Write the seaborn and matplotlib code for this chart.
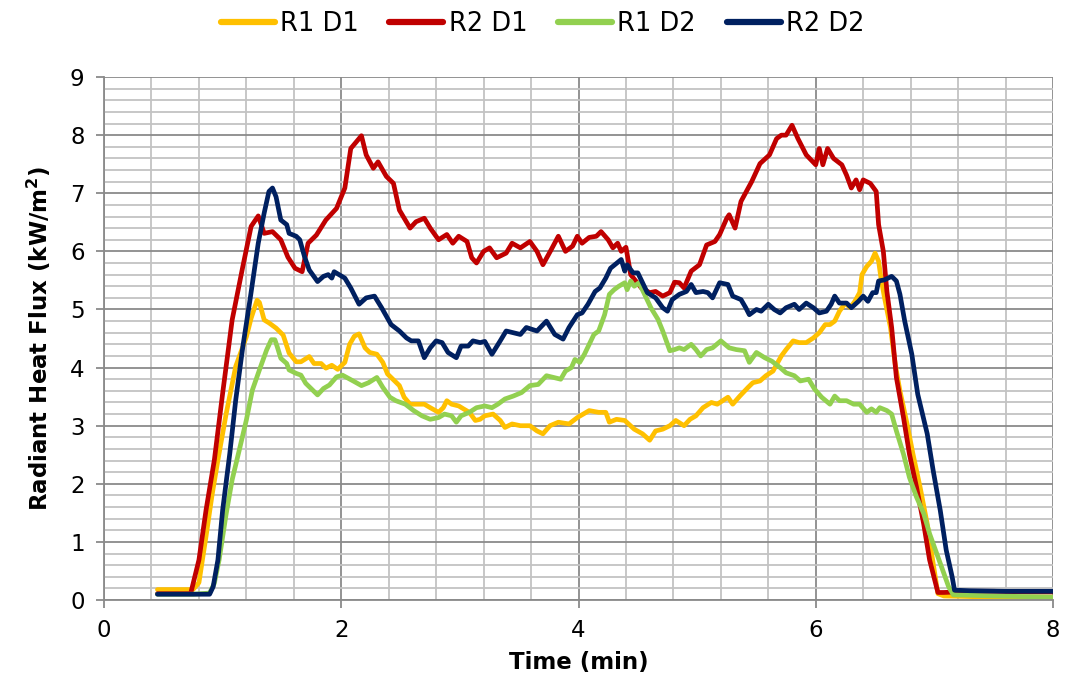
import numpy as np
import pandas as pd
import matplotlib
matplotlib.use("Agg")
import matplotlib.pyplot as plt
from matplotlib.ticker import MultipleLocator
import seaborn as sns

# ---- data ----
t_r1d1 = [0.45, 0.6, 0.75, 0.80, 0.86, 0.91, 0.96, 1.03, 1.11, 1.20, 1.24, 1.29, 1.31, 1.35, 1.39, 1.45,
          1.51, 1.56, 1.62, 1.66, 1.73, 1.77, 1.83, 1.87, 1.92, 1.97, 2.03, 2.07, 2.11, 2.15, 2.20, 2.24,
          2.30, 2.35, 2.39, 2.45, 2.49, 2.53, 2.58, 2.65, 2.70, 2.75, 2.82, 2.86, 2.89, 2.93, 2.99, 3.03,
          3.08, 3.13, 3.17, 3.21, 3.28, 3.34, 3.38, 3.44, 3.51, 3.59, 3.65, 3.70, 3.76, 3.83, 3.92, 3.99,
          4.09, 4.17, 4.23, 4.26, 4.32, 4.39, 4.47, 4.54, 4.60, 4.65, 4.71, 4.77, 4.82, 4.89, 4.94, 4.99,
          5.05, 5.12, 5.17, 5.26, 5.30, 5.36, 5.43, 5.47, 5.53, 5.58, 5.64, 5.68, 5.71, 5.75, 5.81, 5.86,
          5.92, 5.98, 6.03, 6.08, 6.12, 6.16, 6.20, 6.25, 6.29, 6.33, 6.37, 6.39, 6.43, 6.47, 6.50, 6.53,
          6.55, 6.58, 6.63, 6.67, 6.71, 6.77, 6.82, 6.88, 6.94, 6.99, 7.03, 7.08, 7.5, 8.0]
v_r1d1 = [0.18, 0.18, 0.18, 0.30, 1.10, 1.80, 2.41, 3.21, 4.02, 4.53, 4.85, 5.16, 5.12, 4.82, 4.77, 4.68,
          4.56, 4.25, 4.10, 4.10, 4.19, 4.07, 4.07, 3.99, 4.04, 3.97, 4.09, 4.40, 4.54, 4.58, 4.34, 4.26,
          4.23, 4.09, 3.89, 3.77, 3.69, 3.49, 3.37, 3.37, 3.37, 3.31, 3.23, 3.31, 3.43, 3.37, 3.34, 3.29,
          3.23, 3.09, 3.11, 3.17, 3.20, 3.09, 2.97, 3.03, 3.00, 3.00, 2.91, 2.86, 3.00, 3.06, 3.03, 3.14,
          3.26, 3.23, 3.23, 3.06, 3.11, 3.09, 2.94, 2.86, 2.75, 2.91, 2.94, 3.00, 3.09, 3.00, 3.11, 3.17,
          3.31, 3.40, 3.37, 3.49, 3.37, 3.51, 3.66, 3.74, 3.77, 3.86, 3.94, 4.09, 4.20, 4.31, 4.46, 4.43,
          4.43, 4.51, 4.60, 4.74, 4.74, 4.80, 4.97, 5.11, 5.03, 5.14, 5.29, 5.60, 5.74, 5.83, 5.97, 5.83,
          5.54, 5.20, 4.69, 4.06, 3.60, 3.03, 2.51, 1.94, 1.31, 0.63, 0.11, 0.07, 0.05, 0.05]

t_r2d1 = [0.45, 0.6, 0.73, 0.80, 0.86, 0.93, 1.00, 1.08, 1.17, 1.24, 1.30, 1.35, 1.42, 1.49, 1.55, 1.61,
          1.67, 1.72, 1.79, 1.87, 1.96, 2.03, 2.08, 2.17, 2.21, 2.27, 2.31, 2.38, 2.44, 2.49, 2.58, 2.63,
          2.70, 2.75, 2.82, 2.89, 2.94, 2.99, 3.06, 3.10, 3.14, 3.20, 3.25, 3.31, 3.39, 3.44, 3.51, 3.59,
          3.65, 3.70, 3.77, 3.83, 3.89, 3.95, 3.99, 4.03, 4.09, 4.15, 4.19, 4.25, 4.29, 4.33, 4.36, 4.40,
          4.44, 4.53, 4.60, 4.65, 4.71, 4.77, 4.81, 4.85, 4.89, 4.95, 5.02, 5.08, 5.15, 5.19, 5.25, 5.27,
          5.32, 5.37, 5.46, 5.53, 5.61, 5.67, 5.71, 5.75, 5.80, 5.85, 5.92, 6.00, 6.03, 6.06, 6.10, 6.15,
          6.22, 6.26, 6.30, 6.34, 6.37, 6.40, 6.46, 6.51, 6.53, 6.57, 6.60, 6.64, 6.68, 6.74, 6.79, 6.85,
          6.91, 6.96, 7.01, 7.03, 7.08, 7.3, 7.5, 7.8, 8.0]
v_r2d1 = [0.11, 0.11, 0.11, 0.69, 1.55, 2.41, 3.56, 4.82, 5.74, 6.43, 6.61, 6.31, 6.34, 6.20, 5.90, 5.71,
          5.65, 6.14, 6.28, 6.54, 6.74, 7.09, 7.77, 7.99, 7.66, 7.43, 7.54, 7.29, 7.17, 6.71, 6.40, 6.51,
          6.57, 6.40, 6.20, 6.29, 6.14, 6.26, 6.17, 5.89, 5.80, 6.00, 6.06, 5.89, 5.97, 6.14, 6.06, 6.17,
          6.00, 5.77, 6.03, 6.26, 6.00, 6.09, 6.26, 6.14, 6.24, 6.26, 6.34, 6.20, 6.06, 6.14, 6.00, 6.07,
          5.60, 5.37, 5.29, 5.31, 5.23, 5.29, 5.47, 5.46, 5.37, 5.66, 5.77, 6.11, 6.17, 6.29, 6.57, 6.63,
          6.40, 6.86, 7.20, 7.51, 7.66, 7.94, 8.00, 8.00, 8.17, 7.94, 7.66, 7.49, 7.77, 7.49, 7.77, 7.60,
          7.49, 7.31, 7.09, 7.23, 7.06, 7.23, 7.17, 7.03, 6.46, 6.00, 5.31, 4.69, 3.83, 3.14, 2.51, 1.94,
          1.31, 0.69, 0.29, 0.13, 0.13, 0.15, 0.15, 0.14, 0.14]

t_r1d2 = [0.45, 0.6, 0.75, 0.89, 0.93, 0.97, 1.03, 1.08, 1.14, 1.20, 1.25, 1.31, 1.37, 1.41, 1.44, 1.46,
          1.49, 1.54, 1.56, 1.62, 1.66, 1.70, 1.76, 1.80, 1.85, 1.90, 1.96, 2.01, 2.10, 2.17, 2.23, 2.30,
          2.35, 2.41, 2.46, 2.54, 2.61, 2.68, 2.75, 2.82, 2.87, 2.93, 2.97, 3.01, 3.08, 3.14, 3.21, 3.27,
          3.32, 3.38, 3.45, 3.52, 3.59, 3.66, 3.73, 3.79, 3.85, 3.89, 3.94, 3.97, 4.01, 4.05, 4.09, 4.13,
          4.17, 4.22, 4.26, 4.30, 4.34, 4.39, 4.41, 4.44, 4.47, 4.51, 4.55, 4.61, 4.67, 4.71, 4.77, 4.81,
          4.85, 4.89, 4.95, 4.99, 5.03, 5.08, 5.13, 5.20, 5.27, 5.33, 5.40, 5.44, 5.50, 5.57, 5.63, 5.70,
          5.75, 5.82, 5.87, 5.94, 5.99, 6.05, 6.12, 6.16, 6.20, 6.26, 6.32, 6.37, 6.43, 6.47, 6.51, 6.54,
          6.60, 6.64, 6.68, 6.74, 6.79, 6.85, 6.91, 6.96, 7.02, 7.08, 7.12, 7.16, 7.5, 8.0]
v_r1d2 = [0.10, 0.10, 0.10, 0.12, 0.29, 0.69, 1.49, 2.07, 2.58, 3.10, 3.61, 3.96, 4.30, 4.48, 4.48, 4.36,
          4.16, 4.07, 3.96, 3.90, 3.87, 3.73, 3.61, 3.53, 3.64, 3.70, 3.84, 3.87, 3.77, 3.69, 3.74, 3.83,
          3.66, 3.49, 3.43, 3.37, 3.26, 3.17, 3.11, 3.14, 3.20, 3.17, 3.06, 3.17, 3.23, 3.31, 3.34, 3.31,
          3.37, 3.46, 3.51, 3.57, 3.69, 3.71, 3.86, 3.83, 3.80, 3.94, 4.00, 4.14, 4.09, 4.23, 4.40, 4.57,
          4.63, 4.91, 5.26, 5.34, 5.40, 5.46, 5.34, 5.49, 5.40, 5.46, 5.29, 5.03, 4.83, 4.63, 4.29, 4.31,
          4.34, 4.31, 4.40, 4.31, 4.20, 4.31, 4.34, 4.46, 4.34, 4.31, 4.29, 4.09, 4.26, 4.17, 4.11, 4.00,
          3.91, 3.86, 3.77, 3.80, 3.63, 3.49, 3.37, 3.51, 3.43, 3.43, 3.37, 3.37, 3.23, 3.29, 3.23, 3.31,
          3.26, 3.20, 2.91, 2.51, 2.11, 1.77, 1.49, 1.14, 0.80, 0.46, 0.23, 0.09, 0.07, 0.05]

t_r2d2 = [0.45, 0.6, 0.75, 0.89, 0.92, 0.96, 1.00, 1.06, 1.11, 1.17, 1.23, 1.30, 1.35, 1.39, 1.42, 1.45,
          1.49, 1.54, 1.56, 1.62, 1.65, 1.69, 1.73, 1.80, 1.85, 1.89, 1.92, 1.94, 2.03, 2.08, 2.15, 2.21,
          2.28, 2.34, 2.42, 2.49, 2.55, 2.59, 2.65, 2.70, 2.75, 2.80, 2.85, 2.90, 2.97, 3.01, 3.07, 3.11,
          3.17, 3.21, 3.27, 3.34, 3.39, 3.45, 3.51, 3.56, 3.65, 3.73, 3.80, 3.87, 3.92, 3.99, 4.03, 4.08,
          4.14, 4.18, 4.23, 4.27, 4.30, 4.36, 4.39, 4.41, 4.46, 4.50, 4.54, 4.58, 4.65, 4.71, 4.75, 4.79,
          4.85, 4.91, 4.95, 4.99, 5.05, 5.09, 5.13, 5.19, 5.26, 5.30, 5.37, 5.41, 5.44, 5.50, 5.54, 5.60,
          5.65, 5.70, 5.75, 5.82, 5.86, 5.92, 5.98, 6.03, 6.09, 6.13, 6.16, 6.20, 6.26, 6.30, 6.36, 6.40,
          6.44, 6.48, 6.51, 6.53, 6.58, 6.64, 6.68, 6.71, 6.75, 6.81, 6.86, 6.94, 6.99, 7.05, 7.10, 7.15,
          7.17, 7.3, 7.6, 8.0]
v_r2d2 = [0.10, 0.10, 0.10, 0.10, 0.23, 0.69, 1.55, 2.52, 3.44, 4.36, 5.16, 6.14, 6.66, 7.03, 7.09, 6.94,
          6.54, 6.46, 6.31, 6.26, 6.20, 5.91, 5.68, 5.48, 5.57, 5.60, 5.54, 5.65, 5.54, 5.37, 5.09, 5.20,
          5.23, 5.03, 4.74, 4.63, 4.51, 4.46, 4.46, 4.17, 4.34, 4.46, 4.43, 4.26, 4.17, 4.37, 4.37, 4.46,
          4.43, 4.45, 4.23, 4.46, 4.63, 4.60, 4.57, 4.69, 4.63, 4.80, 4.57, 4.49, 4.69, 4.91, 4.94, 5.09,
          5.31, 5.37, 5.54, 5.71, 5.76, 5.86, 5.66, 5.77, 5.63, 5.63, 5.46, 5.29, 5.20, 5.03, 4.97, 5.17,
          5.26, 5.31, 5.43, 5.29, 5.31, 5.29, 5.20, 5.46, 5.43, 5.23, 5.17, 5.03, 4.91, 5.00, 4.97, 5.09,
          5.00, 4.94, 5.03, 5.09, 5.00, 5.11, 5.03, 4.94, 4.97, 5.09, 5.23, 5.11, 5.11, 5.03, 5.14, 5.23,
          5.14, 5.29, 5.29, 5.49, 5.51, 5.57, 5.49, 5.26, 4.80, 4.23, 3.54, 2.86, 2.23, 1.54, 0.86, 0.40,
          0.17, 0.16, 0.15, 0.15]

series_names = ["R1 D1", "R2 D1", "R1 D2", "R2 D2"]
series_colors = ["#FFC000", "#C00000", "#92D050", "#002060"]
x_ticks = [0, 2, 4, 6, 8]
y_ticks = list(range(0, 10))

# ---- build long table ----
frames = []
for name, t, v in zip(series_names,
                      [t_r1d1, t_r2d1, t_r1d2, t_r2d2],
                      [v_r1d1, v_r2d1, v_r1d2, v_r2d2]):
    frames.append(pd.DataFrame({"Time": t, "Flux": v, "Series": name}))
df = pd.concat(frames, ignore_index=True)

sns.set_theme(style="white")
plt.rcParams["font.family"] = ["DejaVu Sans"]
plt.rcParams["text.color"] = "black"
plt.rcParams["axes.labelcolor"] = "black"

fig = plt.figure(figsize=(10.65, 6.94), dpi=100)
ax = fig.add_axes([0.0977, 0.1354, 0.8910, 0.7536])

sns.lineplot(data=df, x="Time", y="Flux", hue="Series", hue_order=series_names,
             palette=dict(zip(series_names, series_colors)), sort=False,
             estimator=None, linewidth=3.4, ax=ax, legend=True,
             solid_joinstyle="round", solid_capstyle="round")

ax.set_xlim(0, 8)
ax.set_ylim(0, 9)
ax.xaxis.set_major_locator(MultipleLocator(2))
ax.xaxis.set_minor_locator(MultipleLocator(0.4))
ax.yaxis.set_major_locator(MultipleLocator(1))
ax.yaxis.set_minor_locator(MultipleLocator(0.2))
ax.set_xticks(x_ticks)
ax.set_yticks(y_ticks)

ax.grid(which="minor", color="#c3c3c3", linewidth=1.3, zorder=0)
ax.grid(which="major", color="#8a8a8a", linewidth=1.3, zorder=0)
ax.set_axisbelow(True)

for s in ["top", "right"]:
    ax.spines[s].set_visible(False)
for s in ["left", "bottom"]:
    ax.spines[s].set_color("#8a8a8a")
    ax.spines[s].set_linewidth(1.3)

ax.tick_params(axis="both", which="major", direction="out", length=6, width=1.3,
               color="#8a8a8a", labelsize=16.5, labelcolor="black", pad=8,
               left=True, bottom=True)
ax.tick_params(axis="both", which="minor", length=0)

ax.set_xlabel("Time (min)", fontsize=16.5, fontweight="bold", labelpad=6, color="black")
ax.set_ylabel("Radiant Heat Flux (kW/m$^\\mathbf{2}$)", fontsize=16.5, fontweight="bold",
              labelpad=12, color="black")

handles, labels = ax.get_legend_handles_labels()
ax.get_legend().remove()
for h in handles:
    h.set_linewidth(4.5)
    h.set_solid_capstyle("round")
leg = fig.legend(handles, labels, loc="center", bbox_to_anchor=(0.5094, 0.965), ncol=4,
                 frameon=False, fontsize=18.5, handlelength=2.1, handletextpad=0.2,
                 columnspacing=1.2, borderaxespad=0.0)
for txt in leg.get_texts():
    txt.set_color("black")

fig.savefig("out.png", dpi=100)
